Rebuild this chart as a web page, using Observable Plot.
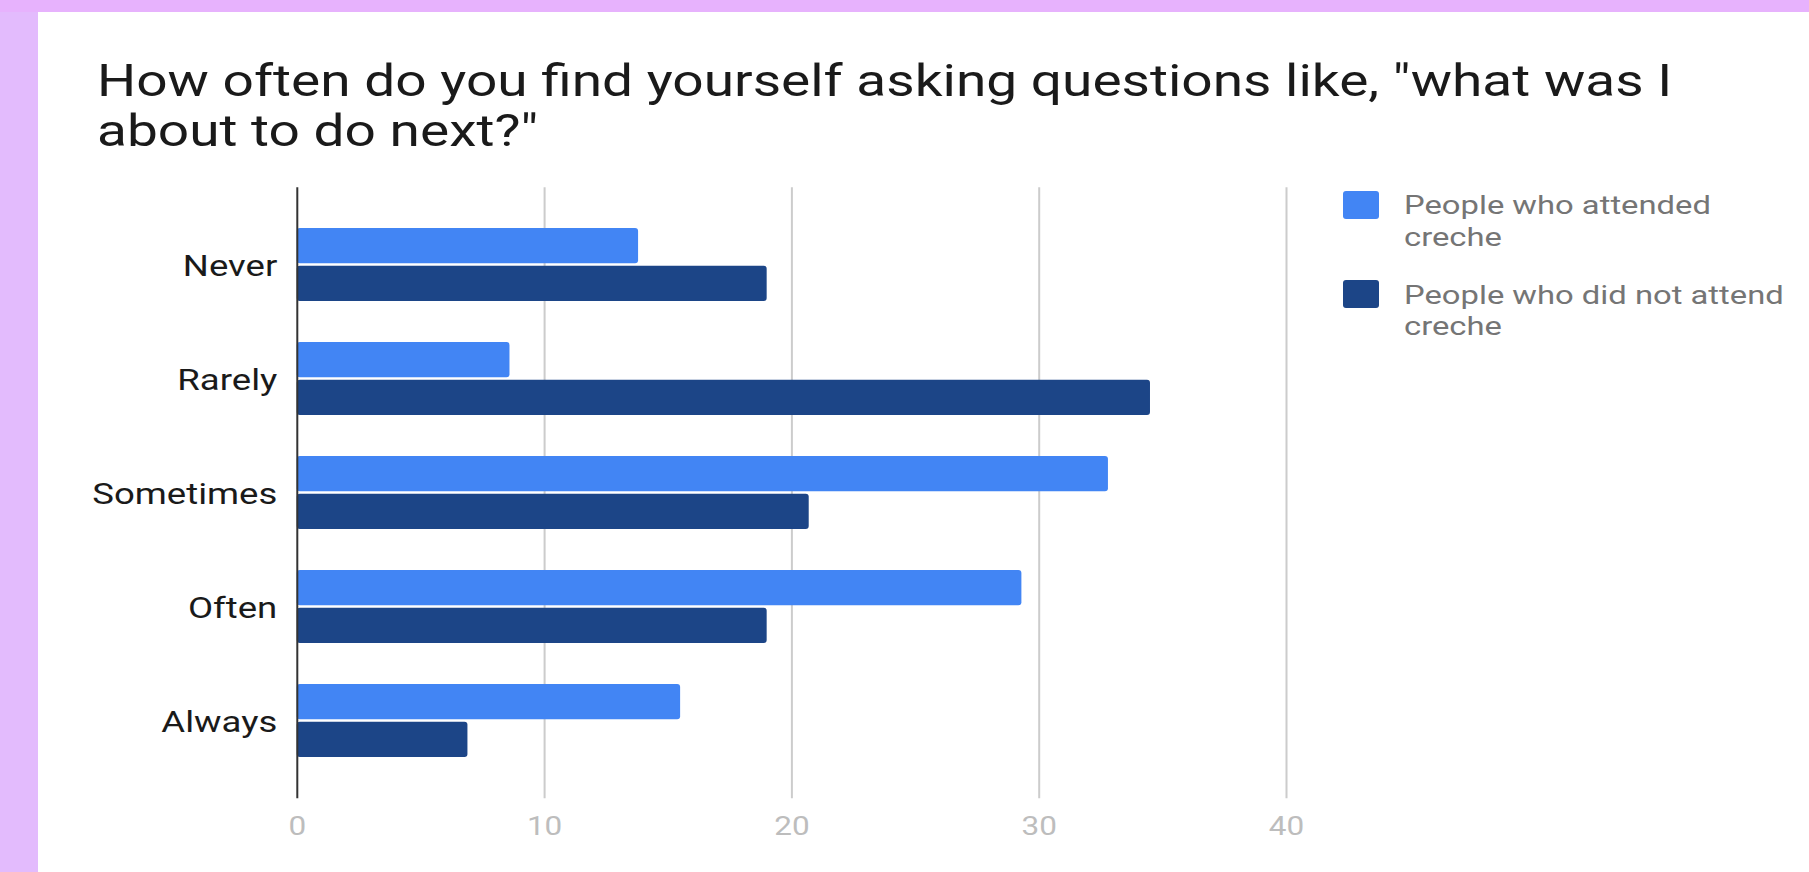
<!DOCTYPE html>
<html>
<head>
<meta charset="utf-8">
<script src="https://cdn.jsdelivr.net/npm/d3@7"></script>
<script src="https://cdn.jsdelivr.net/npm/@observablehq/plot@0.6"></script>
<style>
  html, body { margin: 0; padding: 0; }
  body { width: 1809px; height: 872px; background: #e3bbfd; position: relative; overflow: hidden; font-family: Roboto, sans-serif; }
  #topband { position: absolute; left: 0; top: 0; width: 1809px; height: 12px; background: #e7b2fd; }
  #panel { position: absolute; left: 38px; top: 12px; width: 1771px; height: 860px; background: #ffffff; }
  #title { position: absolute; left: 96.7px; top: 55.6px; font-size: 44px; line-height: 50.7px; color: #1a1a1a; white-space: nowrap; transform: scaleX(1.25); transform-origin: 0 0; }
  #chart { position: absolute; left: 38px; top: 160px; }
  .leg { position: absolute; left: 1342.7px; }
  .sw { position: absolute; width: 36px; height: 28px; border-radius: 3px; }
  .lt { position: absolute; left: 61.6px; font-size: 26px; line-height: 31.7px; color: #757575; white-space: nowrap; transform: scaleX(1.26); transform-origin: 0 0; }
</style>
</head>
<body>
<div id="topband"></div>
<div id="panel"></div>
<div id="title">How often do you find yourself asking questions like, "what was I<br>about to do next?"</div>
<div id="chart"></div>
<div id="legend"></div>
<script>
const categories = ["Never", "Rarely", "Sometimes", "Often", "Always"];
const attended = [13.8, 8.6, 32.8, 29.3, 15.5];
const notAttended = [19.0, 34.5, 20.7, 19.0, 6.9];
const seriesNames = ["People who attended creche", "People who did not attend creche"];
const seriesLines = [["People who attended", "creche"], ["People who did not attend", "creche"]];
const seriesColors = ["#4285f4", "#1c4587"];
const xTicks = [0, 10, 20, 30, 40];
const textStretch = 1.26;

const rowsA = categories.map((c, i) => ({category: c, value: attended[i], series: seriesNames[0]}));
const rowsB = categories.map((c, i) => ({category: c, value: notAttended[i], series: seriesNames[1]}));

const chart = Plot.plot({
  width: 1290,
  height: 712,
  marginLeft: 258.8,
  marginRight: 42,
  marginTop: 27.3,
  marginBottom: 73.7,
  style: {fontFamily: "Roboto, sans-serif", background: "transparent", overflow: "visible"},
  x: {domain: [0, 40], ticks: xTicks},
  y: {domain: categories, paddingInner: 0.363, paddingOuter: 0.357},
  marks: [
    Plot.gridX(xTicks.slice(1), {stroke: "#cccccc", strokeOpacity: 1, strokeWidth: 2}),
    Plot.barX(rowsA, {x: "value", y: "category", fill: seriesColors[0], insetBottom: 37.7, rx: 3}),
    Plot.barX(rowsB, {x: "value", y: "category", fill: seriesColors[1], insetTop: 37.7, rx: 3}),
    Plot.ruleX([0], {stroke: "#333333", strokeWidth: 2}),
    Plot.axisX(xTicks, {tickSize: 0, tickPadding: 18, fontSize: 25, color: "#bdbdbd", label: null}),
    Plot.axisY({tickSize: 0, tickPadding: 20, fontSize: 29, color: "#1a1a1a", label: null, dy: 2})
  ]
});
document.getElementById("chart").appendChild(chart);

// widen the axis labels the same way as the source image's text
chart.querySelectorAll("text").forEach(t => {
  const len = t.getComputedTextLength();
  if (len > 0) {
    t.setAttribute("textLength", (len * textStretch).toFixed(2));
    t.setAttribute("lengthAdjust", "spacingAndGlyphs");
  }
});

const legend = document.getElementById("legend");
const legTops = [190.7, 280];
seriesNames.forEach((name, i) => {
  const g = document.createElement("div");
  g.className = "leg";
  g.style.top = legTops[i] + "px";
  const sw = document.createElement("div");
  sw.className = "sw";
  sw.style.background = seriesColors[i];
  g.appendChild(sw);
  const t = document.createElement("div");
  t.className = "lt";
  t.style.top = "-0.4px";
  t.innerHTML = seriesLines[i].join("<br>");
  g.appendChild(t);
  legend.appendChild(g);
});
</script>
</body>
</html>
